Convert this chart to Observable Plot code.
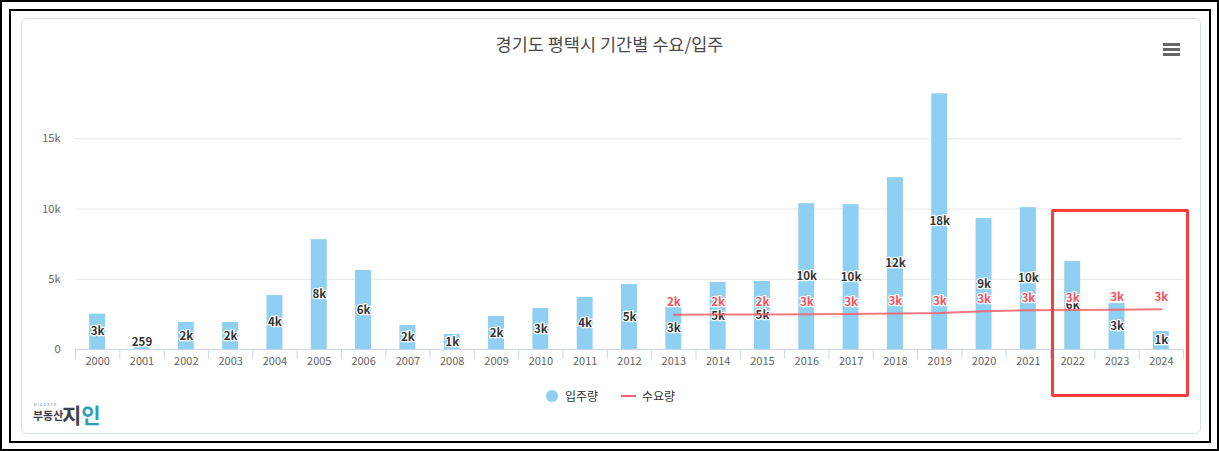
<!DOCTYPE html>
<html><head><meta charset="utf-8">
<script src="https://cdn.jsdelivr.net/npm/d3@7"></script>
<script src="https://cdn.jsdelivr.net/npm/@observablehq/plot@0.6"></script>
<style>
body{margin:0;background:#fff;font-family:"Noto Sans CJK KR","Noto Sans",sans-serif;}
#page{position:relative;width:1219px;height:451px;overflow:hidden;background:#fff;}
.abs{position:absolute;box-sizing:border-box;}
</style></head>
<body>
<div id="page">
  <div class="abs" style="left:0;top:0;width:1219px;height:451px;border:2px solid #000;"></div>
  <div class="abs" style="left:9px;top:9px;width:1202px;height:434px;border:2px solid #000;"></div>
  <div class="abs" style="left:21px;top:18px;width:1180px;height:416px;border:1px solid #d8dfe7;border-radius:6px;"></div>
  <div class="abs" id="title" style="left:0;top:31px;width:1219px;text-align:center;font-size:17.5px;color:#4a4a4a;line-height:26px;">경기도 평택시 기간별 수요/입주</div>
  <div class="abs" style="left:1163px;top:43px;width:17px;height:3px;background:#666;"></div>
  <div class="abs" style="left:1163px;top:48px;width:17px;height:3px;background:#666;"></div>
  <div class="abs" style="left:1163px;top:53px;width:17px;height:3px;background:#666;"></div>
  <div class="abs" id="chart" style="left:0;top:60px;"></div>
  <div class="abs" style="left:546px;top:390px;width:12px;height:12px;border-radius:6px;background:#8fcff1;"></div>
  <div class="abs" style="left:565px;top:387px;font-size:12px;color:#333;line-height:18px;">입주량</div>
  <div class="abs" style="left:621px;top:395px;width:15px;height:2px;background:#f4606b;"></div>
  <div class="abs" style="left:642px;top:387px;font-size:12px;color:#333;line-height:18px;">수요량</div>
  <div class="abs" style="left:34px;top:402px;font-size:4px;color:#888;letter-spacing:1px;line-height:5px;">BIGDATA</div>
  <div class="abs" style="left:33px;top:407px;font-size:11px;font-weight:bold;color:#3d3d4a;line-height:16px;">부동산</div>
  <div class="abs" style="left:62px;top:400px;font-size:21px;font-weight:bold;color:#3d4450;line-height:28px;"><span style="color:#3d4450">지</span><span style="color:#2a9fb5">인</span></div>
  <div class="abs" style="left:1051px;top:209px;width:138px;height:188px;border:3px solid #ff3b3b;border-radius:2px;"></div>
</div>
<script>
const years = ["2000","2001","2002","2003","2004","2005","2006","2007","2008","2009","2010","2011","2012","2013","2014","2015","2016","2017","2018","2019","2020","2021","2022","2023","2024"];
const supply = [2520,259,1920,1920,3840,7820,5620,1710,1070,2350,2920,3700,4620,3010,4770,4840,10380,10310,12230,18200,9320,10100,6260,3270,1280];
const demandYears = ["2013","2014","2015","2016","2017","2018","2019","2020","2021","2022","2023","2024"];
const demand = [2480,2485,2490,2510,2520,2560,2600,2720,2790,2810,2830,2860];
const yTicks = [0,5000,10000,15000];

const bars = years.map((y,i)=>({year:y, v:supply[i]}));
const line = demandYears.map((y,i)=>({year:y, v:demand[i]}));
const fmtK = v => v >= 1000 ? Math.round(v/1000)+"k" : String(v);
const fmtY = v => v === 0 ? "0" : (v/1000)+"k";

const W = 1219, ML = 75, MR = 36;
const step = (W-ML-MR)/years.length;

const chart = Plot.plot({
  width: W, height: 320,
  marginLeft: ML, marginRight: MR, marginTop: 8, marginBottom: 31,
  style: {background:"transparent", color:"#666", fontSize:"11px", fontFamily:"'Noto Sans CJK KR','Noto Sans',sans-serif", overflow:"visible"},
  x: {domain: years, paddingInner: 0.64, paddingOuter: 0.32, round: false},
  y: {domain: [0,20000]},
  marks: [
    Plot.gridY(yTicks.slice(1), {stroke:"#e6e6e6", strokeOpacity:1}),
    Plot.axisY({ticks: yTicks, tickSize:0, tickPadding:15, tickFormat: fmtY, label:null}),
    Plot.axisX({tickSize:0, tickPadding:8, label:null}),
    Plot.ruleX(years, {x: d=>d, y1:0, y2:0, insetBottom:-10, dx:-step/2, stroke:"#ccd6eb"}),
    Plot.ruleX([years[years.length-1]], {x: d=>d, y1:0, y2:0, insetBottom:-10, dx:step/2, stroke:"#ccd6eb"}),
    Plot.barY(bars, {x:"year", y:"v", fill:"#8fcff1"}),
    Plot.ruleY([0], {stroke:"#ccd6eb"}),
    Plot.text(bars, {x:"year", y: d=>Math.max(d.v/2, 500), text: d=>fmtK(d.v), fill:"#333", stroke:"white", strokeWidth:2.5, fontWeight:"bold", fontSize:11.5}),
    Plot.lineY(line, {x:"year", y:"v", stroke:"#f4606b", strokeWidth:2, strokeOpacity:0.85}),
    Plot.text(line, {x:"year", y:"v", dy:-12, text: d=>fmtK(d.v), fill:"#f4505c", stroke:"white", strokeWidth:2.5, fontWeight:"bold", fontSize:11.5})
  ]
});
document.getElementById("chart").appendChild(chart);
</script>
</body></html>
